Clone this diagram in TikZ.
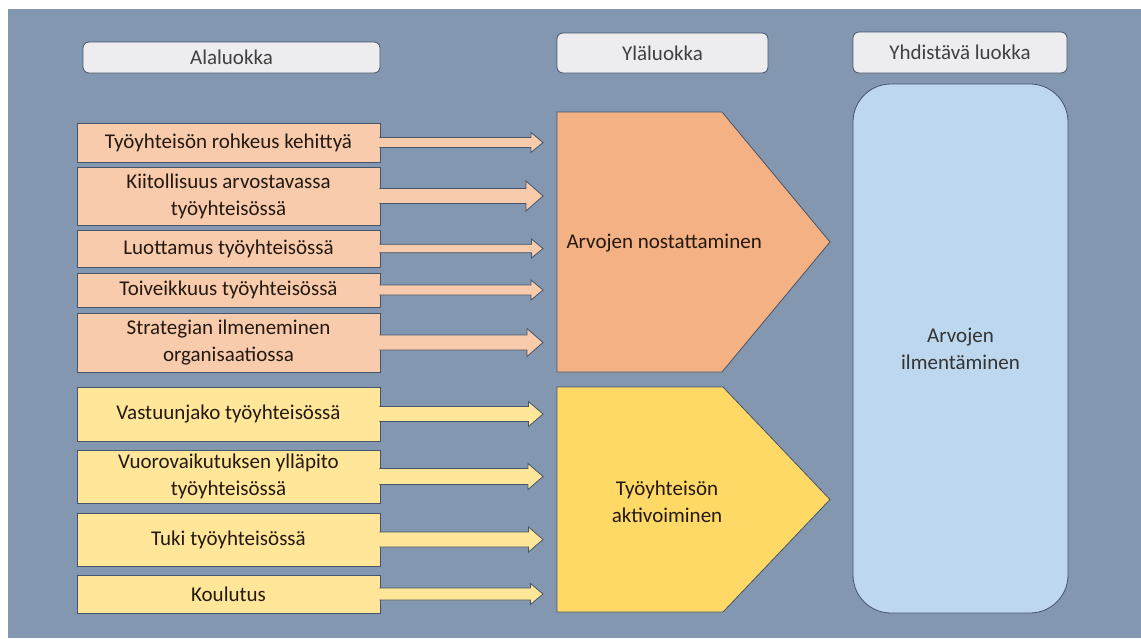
\documentclass[tikz,border=0pt]{standalone}
\usepackage{fontspec}
\setmainfont{Carlito}
\usetikzlibrary{calc}

\definecolor{panel}{HTML}{8497B0}
\definecolor{edge}{HTML}{44546A}
\definecolor{orangelt}{HTML}{F8CBAD}
\definecolor{orangemd}{HTML}{F4B183}
\definecolor{goldlt}{HTML}{FFE699}
\definecolor{goldmd}{HTML}{FFD966}
\definecolor{bluelt}{HTML}{BDD7EE}
\definecolor{hdrfill}{HTML}{EDEDF0}
\definecolor{txtdark}{HTML}{24190F}

\tikzset{
  hdrbox/.style={draw=edge, fill=hdrfill, rounded corners=6pt, line width=0.8pt, text=black!75, inner sep=0pt},
  alabox/.style={draw=edge, line width=0.8pt, minimum width=303pt, inner sep=0pt, align=center, text=txtdark},
  blockarr/.style={draw=edge, line width=0.8pt},
  pentline/.style={draw=edge, line width=0.8pt}
}

% block arrow from a box to the tip column
\newcommand{\blockarrow}[4]{%
  \path (tipcol |- #1.east) coordinate (tip-#1);
  \filldraw[blockarr, fill=#4] ($(#1.east)+(-1,-#2)$) -- ($(tip-#1)+(-#3-2,-#2)$) -- ($(tip-#1)+(-#3-2,-#3)$)
    -- (tip-#1) -- ($(tip-#1)+(-#3-2,#3)$) -- ($(tip-#1)+(-#3-2,#2)$) -- ($(#1.east)+(-1,#2)$);
}

\begin{document}
\begin{tikzpicture}[x=1pt, y=-1pt, font=\fontsize{21}{27}\selectfont]
  \useasboundingbox (0,0) rectangle (1141,638);
  \fill[white] (0,0) rectangle (1141,638);
  \fill[panel] (8,9) rectangle (1141,638);

  % headings
  \node[hdrbox, minimum width=297, minimum height=31] (ala) at (231.5,57.5) {Alaluokka};
  \node[hdrbox, minimum width=211, minimum height=40] (yla) at (662.5,53) {Yläluokka};
  \node[hdrbox, minimum width=214, minimum height=41] (yhd) at (960,52.5) {Yhdistävä luokka};

  % subcategories
  \foreach \n/\y/\h/\c/\t in {k1/142.5/39/orangelt/{Työyhteisön rohkeus kehittyä},
      k2/196/58/orangelt/{Kiitollisuus arvostavassa\\työyhteisössä},
      k3/248.5/37/orangelt/{Luottamus työyhteisössä},
      k4/290/34/orangelt/{Toiveikkuus työyhteisössä},
      k5/342.5/59/orangelt/{Strategian ilmeneminen\\organisaatiossa},
      k6/414/54/goldlt/{Vastuunjako työyhteisössä},
      k7/476.5/53/goldlt/{Vuorovaikutuksen ylläpito\\työyhteisössä},
      k8/539.5/53/goldlt/{Tuki työyhteisössä},
      k9/594/38/goldlt/{Koulutus}}
    \node[alabox, fill=\c, minimum height=\h] (\n) at (228.5,\y) {\t};

  \coordinate (tipcol) at (543,0);
  \foreach \n/\s/\h/\c in {k1/5/10/orangelt, k2/7.5/15/orangelt, k3/4.2/9.5/orangelt,
      k4/5/10/orangelt, k5/7.5/14/orangelt, k6/7.5/12.5/goldlt, k7/8/13/goldlt,
      k8/7.5/12.5/goldlt, k9/6/10.5/goldlt}
    \blockarrow{\n}{\s}{\h}{\c};

  % upper categories
  \draw[pentline, fill=orangemd] (557,112) -- (722,112) -- (830,242) -- (722,372) -- (557,372) -- cycle;
  \draw[pentline, fill=goldmd] (557,387) -- (723,387) -- (830,499.5) -- (723,612) -- (557,612) -- cycle;
  \node[text=txtdark, anchor=west] (nost) at (563,243) {Arvojen nostattaminen};
  \node[text=txtdark, align=center] (aktiv) at (667,502) {Työyhteisön\\aktivoiminen};

  % combining category
  \node[draw=edge, line width=0.8pt, fill=bluelt, rounded corners=38pt, minimum width=215, minimum height=529,
    align=center, text=black!80] (ilme) at (960.5,348.5) {Arvojen\\ilmentäminen};
\end{tikzpicture}
\end{document}
